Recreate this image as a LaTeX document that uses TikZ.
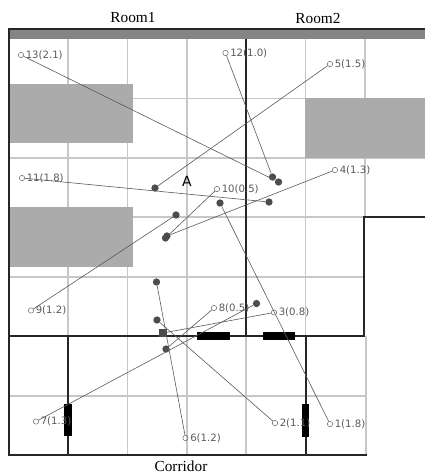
\documentclass[tikz,border=0pt]{standalone}
\usepackage{fontspec}
\setmainfont{Liberation Serif}
\setsansfont{DejaVu Sans}
\tikzset{
  wall/.style={draw=black!85,line width=1.5pt},
  gridline/.style={draw=black!22,line width=0.9pt},
  door/.style={fill=black},
  block/.style={fill=black!33},
  sensor/.style={circle,draw=black!65,line width=0.35pt,inner sep=0pt,minimum size=4pt},
  hit/.style={circle,fill=black!70,inner sep=0pt,minimum size=5.5pt},
  reading/.style={draw=black!65,line width=0.45pt},
  tag/.style={font=\sffamily\fontsize{7.6}{9}\selectfont,text=black!65,inner sep=0pt,right,xshift=1.2pt},
  roomname/.style={font=\fontsize{11.5}{13}\selectfont}
}
\begin{document}
\begin{tikzpicture}[x=0.75pt,y=-0.75pt]

\useasboundingbox (0,0) rectangle (425,476);

% grid
\draw[gridline] (68,39) -- (68,336);
\draw[gridline] (127.5,39) -- (127.5,455);
\draw[gridline] (187,39) -- (187,455);
\draw[gridline] (246,336) -- (246,455);
\draw[gridline] (305.5,39) -- (305.5,336);
\draw[gridline] (365,39) -- (365,217);
\draw[gridline] (366,336) -- (366,455);
\draw[gridline] (9,98.5) -- (425,98.5);
\draw[gridline] (9,158) -- (425,158);
\draw[gridline] (9,217) -- (364,217);
\draw[gridline] (9,277) -- (364,277);
\draw[gridline] (9,396) -- (366,396);

% furniture
\fill[block] (9,84) rectangle (133,143);
\fill[block] (9,207) rectangle (133,267);
\fill[block] (305,98) rectangle (425,158);
\fill[black!48] (9,30) rectangle (425,39);

% walls
\draw[wall] (425,29) -- (9,29) -- (9,455) -- (367,455);
\draw[wall] (246,39) -- (246,336);
\draw[wall] (9,336) -- (364,336) -- (364,217) -- (425,217);
\draw[wall] (68,336) -- (68,455);
\draw[wall] (305.5,336) -- (305.5,455);

% doors
\fill[door] (197,332) rectangle (230,340);
\fill[door] (263,332) rectangle (295,340);
\fill[door] (64,404) rectangle (72,436);
\fill[door] (302,404) rectangle (309,437);

% sensors
\node[sensor] (s1) at (330,424) {};
\node[sensor] (s2) at (275,423) {};
\node[sensor] (s3) at (274,312.5) {};
\node[sensor] (s4) at (335,170) {};
\node[sensor] (s5) at (330,64) {};
\node[sensor] (s6) at (185.5,438) {};
\node[sensor] (s7) at (36,421.5) {};
\node[sensor] (s8) at (214,308) {};
\node[sensor] (s9) at (31,310.5) {};
\node[sensor] (s10) at (217,189) {};
\node[sensor] (s11) at (22,178) {};
\node[sensor] (s12) at (225.5,53) {};
\node[sensor] (s13) at (21,55) {};

% estimates
\node[hit] (e1) at (220,203) {};
\node[hit] (e2) at (157,320) {};
\node[hit,rectangle] (e3) at (163,333) {};
\node[hit] (e4) at (167,236) {};
\node[hit] (e5) at (155,188) {};
\node[hit] (e6) at (156.5,282) {};
\node[hit] (e7) at (256.5,303.5) {};
\node[hit] (e8) at (166,349) {};
\node[hit] (e9) at (176,215) {};
\node[hit] (e10) at (165.5,238) {};
\node[hit] (e11) at (269,202) {};
\node[hit] (e12) at (272.5,177) {};
\node[hit] (e13) at (278.5,182) {};

\draw[reading] (s1) -- (e1);
\draw[reading] (s2) -- (e2);
\draw[reading] (s3) -- (e3);
\draw[reading] (s4) -- (e4);
\draw[reading] (s5) -- (e5);
\draw[reading] (s6) -- (e6);
\draw[reading] (s7) -- (e7);
\draw[reading] (s8) -- (e8);
\draw[reading] (s9) -- (e9);
\draw[reading] (s10) -- (e10);
\draw[reading] (s11) -- (e11);
\draw[reading] (s12) -- (e12);
\draw[reading] (s13) -- (e13);

% labels
\node[tag] (t1) at (s1.east) {1(1.8)};
\node[tag] (t2) at (s2.east) {2(1.1)};
\node[tag] (t3) at (s3.east) {3(0.8)};
\node[tag] (t4) at (s4.east) {4(1.3)};
\node[tag] (t5) at (s5.east) {5(1.5)};
\node[tag] (t6) at (s6.east) {6(1.2)};
\node[tag] (t7) at (s7.east) {7(1.3)};
\node[tag] (t8) at (s8.east) {8(0.5)};
\node[tag] (t9) at (s9.east) {9(1.2)};
\node[tag] (t10) at (s10.east) {10(0.5)};
\node[tag] (t11) at (s11.east) {11(1.8)};
\node[tag] (t12) at (s12.east) {12(1.0)};
\node[tag] (t13) at (s13.east) {13(2.1)};

\node[font=\sffamily\fontsize{10.5}{12}\selectfont] (pointA) at (187,181) {A};
\node[roomname] (room1) at (133,18) {Room1};
\node[roomname] (room2) at (318,18) {Room2};
\node[roomname] (corridor) at (181,466) {Corridor};

\end{tikzpicture}
\end{document}
